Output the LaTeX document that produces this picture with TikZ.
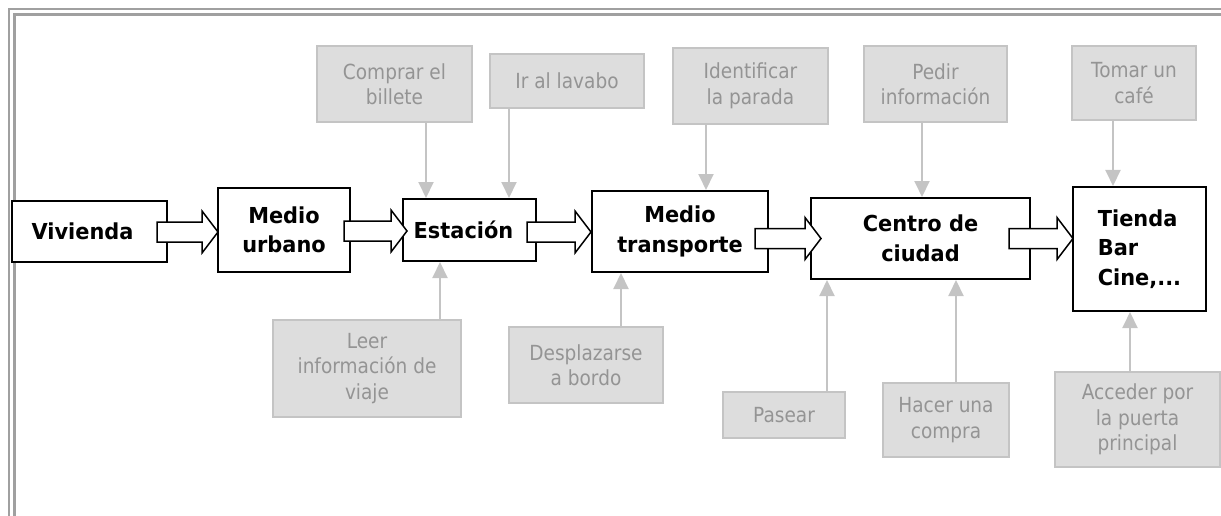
\documentclass[tikz,border=0pt]{standalone}
\usepackage{fontspec}
\setmainfont{DejaVu Sans}
\newfontfamily\greyfont{DejaVu Sans}[FakeStretch=0.89]
\newfontfamily\boldfont{DejaVu Sans}[FakeStretch=0.95]
\usetikzlibrary{arrows.meta,calc}
\definecolor{gfill}{RGB}{221,221,221}
\definecolor{gline}{RGB}{196,196,196}
\definecolor{gtext}{RGB}{148,148,148}
\definecolor{framegrey}{RGB}{160,160,160}
\newcommand\blkarrow[2]{%
  \draw[blk] let \p1=(#1), \p2=(#2) in
    (\x1,\y1+10pt) -- (\x2-16pt,\y1+10pt) -- (\x2-16pt,\y1+21pt) -- (\x2,\y1)
    -- (\x2-16pt,\y1-21pt) -- (\x2-16pt,\y1-10pt) -- (\x1,\y1-10pt) -- cycle;}
\begin{document}
\begin{tikzpicture}[x=1pt,y=-1pt,
  mainbox/.style={draw=black, line width=2pt, fill=white, align=center, inner sep=0pt,
    font=\boldfont\fontsize{22}{29.5}\selectfont\bfseries},
  greybox/.style={draw=gline, line width=1.5pt, fill=gfill, text=gtext, align=center, inner sep=0pt,
    font=\greyfont\fontsize{20.8}{25.5}\selectfont},
  garr/.style={draw=gline, line width=2pt, -{Triangle[width=15pt,length=16pt]}},
  blk/.style={draw=black, line width=1.5pt, fill=white, line join=miter},
  frameline/.style={draw=framegrey}]
\useasboundingbox (0,0) rectangle (1221,516);
% frame
\draw[frameline, line width=2pt] (1221,9) -- (9,9) -- (9,516);
\draw[frameline, line width=2.5pt] (1221,14.5) -- (14.5,14.5) -- (14.5,516);
% main boxes
\node[mainbox, minimum width=155pt, minimum height=61pt] (viv) at (89.5,231.5) {Vivienda\kern14pt};
\node[mainbox, minimum width=132pt, minimum height=84pt] (med) at (284,230) {Medio\\urbano};
\node[mainbox, minimum width=133pt, minimum height=62pt] (est) at (469.5,230) {Estación\kern12pt};
\node[mainbox, minimum width=176pt, minimum height=81pt] (mt) at (680,231.5) {Medio\\transporte};
\node[mainbox, minimum width=219pt, minimum height=81pt] (cc) at (920.5,238.5) {Centro de\\ciudad};
\node[mainbox, minimum width=133pt, minimum height=124pt, align=left] (tie) at (1139.5,249) {Tienda\\Bar\\Cine,...};
% grey boxes
\node[greybox, minimum width=155pt, minimum height=76pt] (cb) at (394.5,84) {Comprar el\\billete};
\node[greybox, minimum width=154pt, minimum height=54pt] (lav) at (567,81) {Ir al lavabo};
\node[greybox, minimum width=155pt, minimum height=76pt] (idp) at (750.5,86) {Identificar\\la parada};
\node[greybox, minimum width=143pt, minimum height=76pt] (ped) at (935.5,84) {Pedir\\información};
\node[greybox, minimum width=124pt, minimum height=74pt] (caf) at (1134,83) {Tomar un\\café};
\node[greybox, minimum width=188pt, minimum height=97pt] (leer) at (367,368.5) {Leer\\información de\\viaje};
\node[greybox, minimum width=154pt, minimum height=76pt] (desp) at (586,365) {Desplazarse\\a bordo};
\node[greybox, minimum width=122pt, minimum height=46pt] (pas) at (784,415) {Pasear};
\node[greybox, minimum width=126pt, minimum height=74pt] (hac) at (946,420) {Hacer una\\compra};
\node[greybox, minimum width=165pt, minimum height=95pt] (acc) at (1137.5,419.5) {Acceder por\\la puerta\\principal};
% x positions of grey connectors
\coordinate (x1) at (426,0);
\coordinate (x2) at (509,0);
\coordinate (x3) at (706,0);
\coordinate (x4) at (922,0);
\coordinate (x5) at (1113,0);
\coordinate (x6) at (440,0);
\coordinate (x7) at (621,0);
\coordinate (x8) at (827,0);
\coordinate (x9) at (956,0);
\coordinate (x10) at (1130,0);
\draw[garr] (cb.south -| x1) -- (est.north -| x1);
\draw[garr] (lav.south -| x2) -- (est.north -| x2);
\draw[garr] (idp.south -| x3) -- (mt.north -| x3);
\draw[garr] (ped.south -| x4) -- (cc.north -| x4);
\draw[garr] (caf.south -| x5) -- (tie.north -| x5);
\draw[garr] (leer.north -| x6) -- (est.south -| x6);
\draw[garr] (desp.north -| x7) -- (mt.south -| x7);
\draw[garr] (pas.north -| x8) -- (cc.south -| x8);
\draw[garr] (hac.north -| x9) -- (cc.south -| x9);
\draw[garr] (acc.north -| x10) -- (tie.south -| x10);
% block arrows
\blkarrow{$(viv.east)+(-11,0.5)$}{$(med.west)+(1,0)$}
\blkarrow{$(med.east)+(-7,1)$}{$(est.west)+(5,0)$}
\blkarrow{$(est.east)+(-10,2)$}{mt.west}
\blkarrow{$(mt.east)+(-14,7)$}{$(cc.west)+(11,0)$}
\blkarrow{$(cc.east)+(-22,0)$}{$(tie.west)+(1,0)$}
\end{tikzpicture}
\end{document}
